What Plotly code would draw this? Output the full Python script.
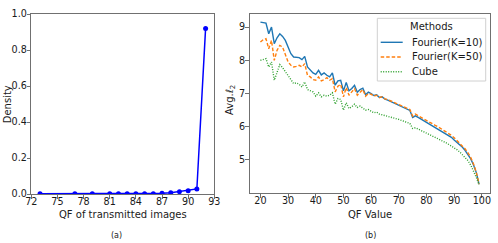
import plotly.graph_objects as go

# ---- Panel (a) data ----
qf_a = [73, 77, 79, 81, 82, 83, 84, 85, 86, 87, 88, 89, 90, 91, 92]
density = [0.001, 0.001, 0.001, 0.001, 0.001, 0.001, 0.002, 0.002, 0.002, 0.004,
           0.007, 0.013, 0.018, 0.028, 0.92]

# ---- Panel (b) data ----
qf_b = list(range(20, 100))
fourier_k10 = [9.15, 9.14, 9.12, 8.80, 9.00, 8.50, 8.68, 8.80, 8.72, 8.60,
               8.40, 8.20, 8.10, 8.10, 8.08, 8.02, 8.12, 7.80, 7.72, 7.62,
               7.58, 7.70, 7.56, 7.62, 7.55, 7.50, 7.62, 7.25, 7.38, 7.40,
               7.08, 7.33, 7.08, 7.15, 7.25, 7.04, 7.12, 7.16, 6.96, 7.04,
               7.00, 6.94, 6.96, 6.88, 6.90, 6.83, 6.80, 6.76, 6.72, 6.69,
               6.64, 6.60, 6.56, 6.52, 6.49, 6.28, 6.33, 6.28, 6.23, 6.19,
               6.14, 6.10, 6.05, 6.00, 5.95, 5.90, 5.85, 5.80, 5.74, 5.68,
               5.60, 5.53, 5.46, 5.38, 5.28, 5.17, 5.03, 4.85, 4.62, 4.27]
fourier_k50 = [8.55, 8.62, 8.65, 8.35, 8.60, 8.00, 8.30, 8.45, 8.40, 8.20,
               7.95, 7.85, 7.80, 7.82, 7.85, 7.80, 7.90, 7.55, 7.50, 7.42,
               7.40, 7.50, 7.38, 7.42, 7.48, 7.40, 7.45, 7.05, 7.22, 7.28,
               6.90, 7.18, 6.95, 7.05, 7.15, 6.95, 7.05, 7.12, 6.92, 7.00,
               6.98, 6.92, 6.95, 6.88, 6.90, 6.84, 6.82, 6.78, 6.74, 6.71,
               6.66, 6.62, 6.58, 6.55, 6.52, 6.32, 6.38, 6.33, 6.28, 6.24,
               6.19, 6.15, 6.10, 6.05, 6.01, 5.96, 5.91, 5.86, 5.80, 5.74,
               5.67, 5.59, 5.52, 5.43, 5.33, 5.21, 5.07, 4.88, 4.63, 4.27]
cube = [8.00, 8.02, 8.05, 7.80, 7.95, 7.40, 7.65, 7.87, 7.78, 7.65,
        7.55, 7.42, 7.30, 7.32, 7.28, 7.20, 7.35, 7.12, 7.08, 7.05,
        6.92, 7.02, 6.90, 6.95, 6.92, 6.95, 7.02, 6.68, 6.85, 6.82,
        6.50, 6.72, 6.55, 6.60, 6.68, 6.58, 6.62, 6.56, 6.50, 6.52,
        6.46, 6.42, 6.44, 6.38, 6.36, 6.34, 6.32, 6.29, 6.27, 6.24,
        6.22, 6.19, 6.16, 6.13, 6.10, 5.95, 5.97, 5.93, 5.89, 5.86,
        5.82, 5.78, 5.74, 5.70, 5.65, 5.61, 5.57, 5.52, 5.47, 5.42,
        5.37, 5.31, 5.24, 5.16, 5.08, 4.98, 4.84, 4.68, 4.48, 4.25]

series_names = ["Fourier(K=10)", "Fourier(K=50)", "Cube"]
series_colors = ["#1f77b4", "#ff7f0e", "#2ca02c"]
series_dash = ["solid", "3.5px,2px", "1px,1.5px"]

xticks_a = [72, 75, 78, 81, 84, 87, 90, 93]
yticks_a = [0.0, 0.2, 0.4, 0.6, 0.8, 1.0]
xticks_b = [20, 30, 40, 50, 60, 70, 80, 90, 100]
yticks_b = [5, 6, 7, 8, 9]

W, H = 498, 243
FONT = "DejaVu Sans"
TXT = "#1a1a1a"
FRAME = "#707070"
LW = 1.4

def px(x):
    return x / W

def py(y):
    return 1 - y / H

fig = go.Figure()

fig.add_trace(go.Scatter(
    x=qf_a, y=density, mode="lines+markers",
    line=dict(color="#0000ff", width=1.5),
    marker=dict(color="#0000ff", size=5),
    xaxis="x", yaxis="y", showlegend=False))

for name, vals, col, dash in zip(series_names, [fourier_k10, fourier_k50, cube],
                                 series_colors, series_dash):
    fig.add_trace(go.Scatter(
        x=qf_b, y=vals, mode="lines", name=name,
        line=dict(color=col, width=LW, dash=dash),
        xaxis="x2", yaxis="y2", showlegend=False))

axis_common = dict(
    showline=True, mirror=True, linecolor=FRAME, linewidth=1,
    ticks="outside", ticklen=3.5, tickwidth=1, tickcolor=FRAME,
    showgrid=False, zeroline=False, automargin=False,
    tickfont=dict(family=FONT, size=9.6, color=TXT),
)

fig.update_layout(
    width=W, height=H,
    margin=dict(l=0, r=0, t=0, b=0),
    paper_bgcolor="white", plot_bgcolor="white",
    font=dict(family=FONT, size=10, color=TXT),
    showlegend=False,
    xaxis=dict(domain=[px(31.3), px(214.3)], range=[72, 93],
               tickvals=xticks_a, anchor="y", ticklabelstandoff=-5, **axis_common),
    yaxis=dict(domain=[py(194), py(14)], range=[0, 1],
               tickvals=yticks_a, tickformat=".1f", anchor="x",
               ticklabelstandoff=-2, **axis_common),
    xaxis2=dict(domain=[px(249.5), px(490)], range=[16.05, 102.95],
                tickvals=xticks_b, anchor="y2", ticklabelstandoff=-5, **axis_common),
    yaxis2=dict(domain=[py(193), py(14)], range=[4.005, 9.395],
                tickvals=yticks_b, anchor="x2", ticklabelstandoff=-2, **axis_common),
)

# ---- legend box (drawn manually to match matplotlib's compact legend) ----
fig.add_shape(type="rect", xref="paper", yref="paper",
              x0=px(377.3), x1=px(485.7), y0=py(81), y1=py(18.3),
              line=dict(color="#d0d0d0", width=1), fillcolor="white",
              layer="above")
fig.add_annotation(text="Methods", x=px(431.7), y=py(26.7),
                   xref="paper", yref="paper", showarrow=False,
                   xanchor="center", yanchor="middle",
                   font=dict(family=FONT, size=10, color=TXT))
for i, (name, col, dash) in enumerate(zip(series_names, series_colors, series_dash)):
    yy = py(42.3 + 14.7 * i)
    fig.add_shape(type="line", xref="paper", yref="paper",
                  x0=px(380.7), x1=px(402.7), y0=yy, y1=yy,
                  line=dict(color=col, width=LW, dash=dash), layer="above")
    fig.add_annotation(text=name, x=px(409.5), y=yy,
                       xref="paper", yref="paper", showarrow=False,
                       xanchor="left", yanchor="middle",
                       font=dict(family=FONT, size=10, color=TXT))

ann = [
    dict(text="Density", x=px(7.3), y=py(104), textangle=-90, size=10),
    dict(text="QF of transmitted images", x=px(123), y=py(214), textangle=0, size=10),
    dict(text="(a)", x=px(116), y=py(235), textangle=0, size=8),
    dict(text="Avg.<i>ℓ</i><sub>2</sub>", x=px(230), y=py(100), textangle=-90, size=10),
    dict(text="QF Value", x=px(370), y=py(214), textangle=0, size=10),
    dict(text="(b)", x=px(370), y=py(235), textangle=0, size=8),
]
for a in ann:
    fig.add_annotation(
        text=a["text"], x=a["x"], y=a["y"], xref="paper", yref="paper",
        xanchor="center", yanchor="middle", showarrow=False,
        textangle=a["textangle"],
        font=dict(family=FONT, size=a["size"], color=TXT))

fig.write_html(
    "out.html",
    config={"displayModeBar": False},
    post_script="document.body.style.margin='0';document.body.style.padding='0';"
                "document.body.style.overflow='hidden';",
)
